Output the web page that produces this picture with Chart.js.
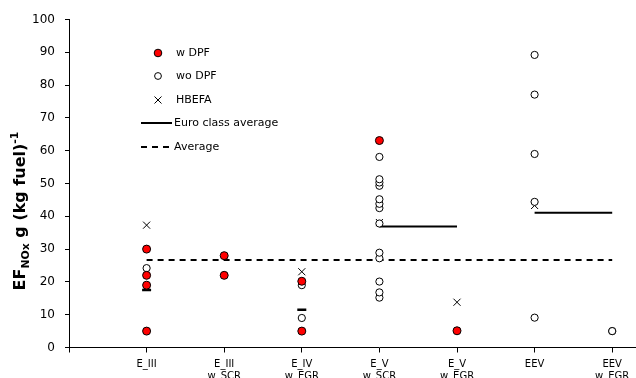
<!DOCTYPE html>
<html>
<head>
<meta charset="utf-8">
<script src="https://cdn.jsdelivr.net/npm/chart.js@4"></script>
<style>
  html, body { margin: 0; padding: 0; background: #fff; overflow: hidden; }
  #wrap { position: relative; width: 700px; height: 400px; }
</style>
</head>
<body>
<div id="wrap"><canvas id="chart"></canvas></div>
<script>
// categories on the x axis (multi-line labels)
var categories = [
    ['E_III'], ['E_III', 'w_SCR'], ['E_IV', 'w_EGR'], ['E_V', 'w_SCR'],
    ['E_V', 'w_EGR'], ['EEV'], ['EEV', 'w_EGR']
];

// measured emission factors per category
var wDPF = [[5, 19, 22, 30], [22, 28], [5, 20.2], [63.1], [5.1], [], []];
var woDPF = [
    [24.2], [], [9.0, 19.0],
    [15.2, 16.8, 20.1, 27.2, 28.9, 37.8, 42.5, 43.8, 45.2, 49.3, 50.3, 51.3, 58.1],
    [], [9.1, 44.4, 59.0, 77.1, 89.2], [5.0, 5.0]
];
var hbefa = [37.3, null, 23.1, 38.1, 13.8, 43.3, null];

// Euro class averages: value, first and last category (1-based)
var euroAvg = [17.5, 11.5, 36.9, 41.1];
var euroFrom = [1, 3, 4, 6];
var euroTo = [1, 3, 5, 7];

// overall average
var overallAvg = 26.7;

var yTicks = [0, 10, 20, 30, 40, 50, 60, 70, 80, 90, 100];

function pts(arr) {
    var out = [];
    arr.forEach(function(vals, i) {
        vals.forEach(function(v) { out.push({x: i + 1, y: v}); });
    });
    return out;
}

var datasets = [
    {
        label: 'w DPF', data: pts(wDPF),
        pointRadius: 4, pointBackgroundColor: '#ff0000', pointBorderColor: '#000', pointBorderWidth: 1
    },
    {
        label: 'wo DPF', data: pts(woDPF),
        pointRadius: 3.6, pointBackgroundColor: '#fff', pointBorderColor: '#000', pointBorderWidth: 1
    },
    {
        label: 'HBEFA',
        data: hbefa.map(function(v, i) { return {x: i + 1, y: v}; }).filter(function(d) { return d.y !== null; }),
        pointStyle: 'crossRot', pointRadius: 5, pointBorderColor: '#000', pointBorderWidth: 1
    },
    {
        label: 'Average',
        data: [{x: 1, y: overallAvg}, {x: 7, y: overallAvg}],
        showLine: true, borderColor: '#000', borderWidth: 2, borderDash: [6, 5], pointRadius: 0
    }
];

euroAvg.forEach(function(v, i) {
    if (euroFrom[i] === euroTo[i]) {
        datasets.push({
            label: 'Euro class average', data: [{x: euroFrom[i], y: v}],
            pointStyle: 'line', pointRadius: 4.5, pointBorderColor: '#000', pointBorderWidth: 2.5
        });
    } else {
        datasets.push({
            label: 'Euro class average', data: [{x: euroFrom[i], y: v}, {x: euroTo[i], y: v}],
            showLine: true, borderColor: '#000', borderWidth: 2, pointRadius: 0
        });
    }
});

// legend drawn inside the plot
var legendPlugin = {
    id: 'legendBox',
    afterDraw: function(chart) {
        var c = chart.ctx;
        c.save();
        c.font = '11px "DejaVu Sans"';
        c.fillStyle = '#000';
        c.textBaseline = 'middle';
        c.lineWidth = 1;
        c.strokeStyle = '#000';
        // w DPF
        c.beginPath(); c.arc(158, 53, 3.8, 0, Math.PI * 2);
        c.fillStyle = '#ff0000'; c.fill(); c.stroke();
        c.fillStyle = '#000';
        c.fillText('w DPF', 176, 53);
        // wo DPF
        c.beginPath(); c.arc(158, 76, 3.4, 0, Math.PI * 2);
        c.fillStyle = '#fff'; c.fill(); c.stroke();
        c.fillStyle = '#000';
        c.fillText('wo DPF', 176, 76);
        // HBEFA
        c.beginPath();
        c.moveTo(154.5, 96.5); c.lineTo(161.5, 103.5);
        c.moveTo(161.5, 96.5); c.lineTo(154.5, 103.5);
        c.stroke();
        c.fillText('HBEFA', 176, 100);
        // Euro class average
        c.lineWidth = 2;
        c.beginPath(); c.moveTo(141, 123); c.lineTo(172, 123); c.stroke();
        c.fillText('Euro class average', 174, 123);
        // Average
        c.setLineDash([6, 5]);
        c.beginPath(); c.moveTo(141, 147); c.lineTo(172, 147); c.stroke();
        c.setLineDash([]);
        c.fillText('Average', 174, 147);
        c.restore();
    }
};

// rotated y title with subscript and superscript
var yTitlePlugin = {
    id: 'yTitle',
    afterDraw: function(chart) {
        var c = chart.ctx;
        var fs = 16;
        var parts = [
            {t: 'EF', s: 1, dy: 0},
            {t: 'NOx', s: 0.68, dy: 0.22},
            {t: ' g (kg fuel)', s: 1, dy: 0},
            {t: '-1', s: 0.68, dy: -0.42}
        ];
        c.save();
        var total = 0;
        parts.forEach(function(p) {
            c.font = 'bold ' + (fs * p.s) + 'px "DejaVu Sans"';
            p.w = c.measureText(p.t).width;
            total += p.w;
        });
        c.translate(25, 211);
        c.rotate(-Math.PI / 2);
        c.fillStyle = '#000';
        c.textBaseline = 'alphabetic';
        var x = -total / 2;
        parts.forEach(function(p) {
            c.font = 'bold ' + (fs * p.s) + 'px "DejaVu Sans"';
            c.fillText(p.t, x, p.dy * fs);
            x += p.w;
        });
        c.restore();
    }
};

new Chart(document.getElementById('chart'), {
    type: 'scatter',
    data: {datasets: datasets},
    options: {
        responsive: true,
        maintainAspectRatio: false,
        animation: false,
        layout: {padding: {top: 19.5, right: 10.2, left: 0, bottom: 0}},
        plugins: {legend: {display: false}, tooltip: {enabled: false}},
        scales: {
            x: {
                type: 'linear', min: 0, max: 8,
                afterBuildTicks: function(scale) {
                    scale.ticks = [0, 1, 2, 3, 4, 5, 6, 7, 8].map(function(v) { return {value: v}; });
                },
                afterFit: function(scale) { scale.height = 52.5; },
                grid: {drawOnChartArea: false, tickLength: 5, color: '#000'},
                border: {color: '#000', width: 1},
                ticks: {
                    autoSkip: false, maxRotation: 0, padding: 6, color: '#000',
                    font: {family: 'DejaVu Sans', size: 10},
                    callback: function(v) { return (v >= 1 && v <= 7) ? categories[v - 1] : ''; }
                }
            },
            y: {
                min: 0, max: 100,
                afterBuildTicks: function(scale) {
                    scale.ticks = yTicks.map(function(v) { return {value: v}; });
                },
                afterFit: function(scale) { scale.width = 69; },
                grid: {drawOnChartArea: false, tickLength: 4, color: '#000'},
                border: {color: '#000', width: 1},
                ticks: {padding: 10, color: '#000', font: {family: 'DejaVu Sans', size: 12}}
            }
        }
    },
    plugins: [legendPlugin, yTitlePlugin]
});
</script>
</body>
</html>
